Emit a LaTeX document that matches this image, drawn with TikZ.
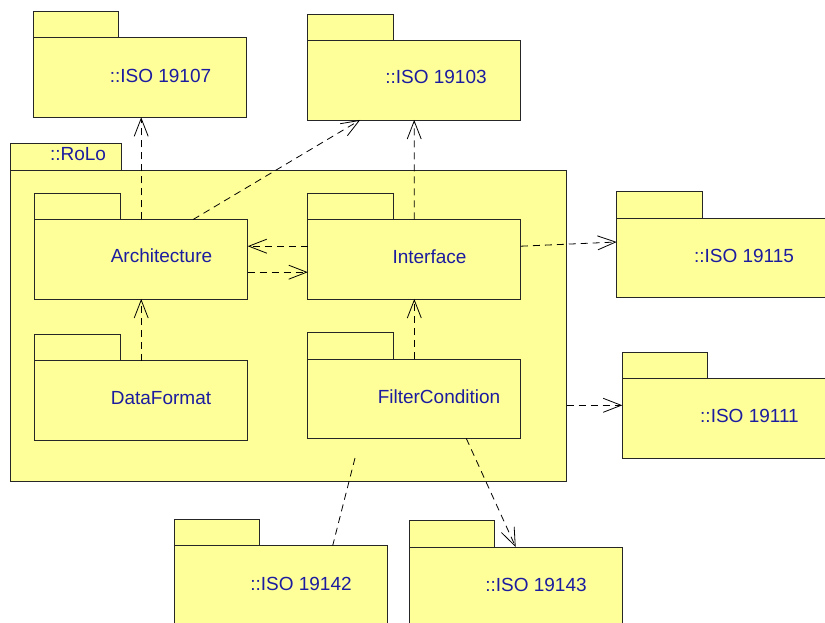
\documentclass[tikz,border=0pt]{standalone}
\usepackage{fontspec}
\setmainfont{Liberation Sans}
\usetikzlibrary{arrows.meta}

\definecolor{pkgfill}{RGB}{255,255,153}
\definecolor{pkgtext}{RGB}{28,28,160}

\tikzset{
	pkg/.style={draw=black!85, fill=pkgfill, line width=0.8pt, inner sep=0pt, outer sep=0pt,
		minimum width=213pt, minimum height=79.5pt},
	pkgtab/.style={draw=black!85, fill=pkgfill, line width=0.8pt, inner sep=0pt, outer sep=0pt,
		minimum width=85.5pt, minimum height=26.5pt, anchor=south west},
	pkgname/.style={text=pkgtext, font=\fontsize{19}{21}\selectfont, inner sep=0pt},
	dep/.style={line width=0.8pt, dash pattern=on 7pt off 5pt, -{Straight Barb[length=18pt,width=14pt]}},
	deponly/.style={line width=0.8pt, dash pattern=on 7pt off 5pt}
}

\begin{document}
\begin{tikzpicture}[x=1pt,y=-1pt]
	\useasboundingbox (0,0) rectangle (825,623);
	% outer package
	\node[pkg, minimum width=556.4pt, minimum height=311.4pt] (rolo) at (288.5,326) {};
	\node[pkgtab, minimum width=110.7pt] (rolo-tab) at (rolo.north west) {};
	\node[pkgname] at (78,154) {::RoLo};
	% inner packages
	\node[pkg] (arch) at (141.2,259.2) {};
	\node[pkgtab] at (arch.north west) {};
	\node[pkgname] at (161.5,256) {Architecture};
	\node[pkg] (iface) at (414.3,259.2) {};
	\node[pkgtab] at (iface.north west) {};
	\node[pkgname] at (429.5,256.5) {Interface};
	\node[pkg] (dform) at (141.2,400.5) {};
	\node[pkgtab] at (dform.north west) {};
	\node[pkgname] at (161,398) {DataFormat};
	\node[pkg] (filt) at (414.3,398.7) {};
	\node[pkgtab] at (filt.north west) {};
	\node[pkgname] at (439,397) {FilterCondition};
	% ISO packages
	\node[pkg] (iso107) at (139.5,77.5) {};
	\node[pkgtab] at (iso107.north west) {};
	\node[pkgname] at (160.5,75.5) {::ISO 19107};
	\node[pkg] (iso103) at (414.2,80.2) {};
	\node[pkgtab] at (iso103.north west) {};
	\node[pkgname] at (436,77) {::ISO 19103};
	\node[pkg] (iso115) at (723.2,258) {};
	\node[pkgtab] at (iso115.north west) {};
	\node[pkgname] at (744,255.5) {::ISO 19115};
	\node[pkg] (iso111) at (728.8,418.3) {};
	\node[pkgtab] at (iso111.north west) {};
	\node[pkgname] at (749.5,416) {::ISO 19111};
	\node[pkg] (iso142) at (280.7,585.3) {};
	\node[pkgtab] at (iso142.north west) {};
	\node[pkgname] at (301,584) {::ISO 19142};
	\node[pkg] (iso143) at (515.7,586.8) {};
	\node[pkgtab] at (iso143.north west) {};
	\node[pkgname] at (536,584.5) {::ISO 19143};
	% dependencies
	\draw[dep] (arch.north) -- (arch.north |- iso107.south);
	\draw[dep] ([xshift=52pt]arch.north) -- ([xshift=-54pt]iso103.south);
	\draw[dep] (iface.north) -- (iso103.south);
	\draw[dep] ([yshift=13pt]iface.west) -- ([yshift=13pt]arch.east);
	\draw[dep] ([yshift=-13pt]arch.east) -- ([yshift=-13pt]iface.west);
	\draw[dep] ([yshift=13pt]iface.east) -- ([yshift=16pt]iso115.west);
	\draw[dep] (dform.north) -- (arch.south);
	\draw[dep] (filt.north) -- (iface.south);
	\coordinate (to111) at ([yshift=13pt]iso111.west);
	\draw[dep] (to111 -| rolo.east) -- (to111);
	\coordinate (from142) at (355,458);
	\draw[deponly] (from142) -- ([xshift=52pt]iso142.north);
	\draw[dep] ([xshift=52pt]filt.south) -- (iso143.north);
\end{tikzpicture}
\end{document}
